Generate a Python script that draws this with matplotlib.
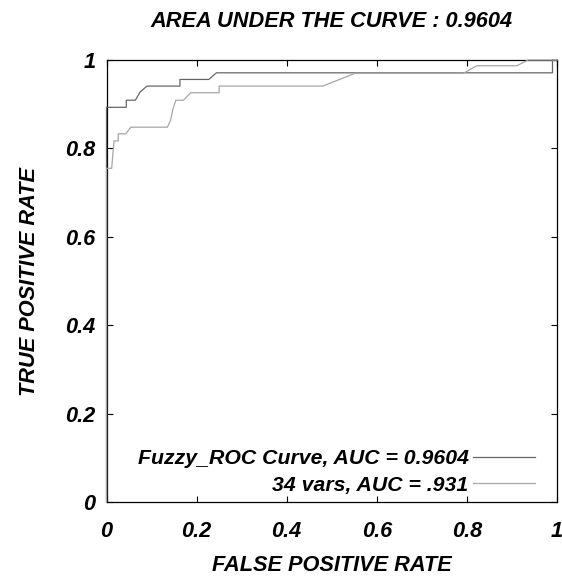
import matplotlib
matplotlib.use("Agg")
import matplotlib.pyplot as plt

plt.rcParams['font.family'] = ['Liberation Sans', 'DejaVu Sans']

# Fuzzy ROC curve
fuzzy_fpr = [0.0, 0.0, 0.044, 0.044, 0.064, 0.075, 0.090, 0.163, 0.163, 0.227, 0.244, 0.990, 0.990, 1.0]
fuzzy_tpr = [0.0, 0.893, 0.893, 0.909, 0.909, 0.928, 0.941, 0.941, 0.956, 0.956, 0.971, 0.971, 1.0, 1.0]

# 34 vars ROC curve
vars_fpr = [0.0, 0.0, 0.0115, 0.0166, 0.026, 0.026, 0.043, 0.054, 0.135, 0.142, 0.148, 0.154,
            0.171, 0.187, 0.250, 0.250, 0.480, 0.552, 0.792, 0.822, 0.911, 0.936, 1.0]
vars_tpr = [0.0, 0.755, 0.755, 0.817, 0.817, 0.833, 0.833, 0.848, 0.848, 0.863, 0.891, 0.909,
            0.909, 0.926, 0.926, 0.941, 0.941, 0.970, 0.970, 0.987, 0.987, 1.0, 1.0]

labels = ["Fuzzy_ROC Curve, AUC = 0.9604", "34 vars, AUC = .931"]
title = "AREA UNDER THE CURVE : 0.9604"
xticks = [0, 0.2, 0.4, 0.6, 0.8, 1]
yticks = [0, 0.2, 0.4, 0.6, 0.8, 1]
xtick_labels = ["0", "0.2", "0.4", "0.6", "0.8", "1"]
ytick_labels = ["0", "0.2", "0.4", "0.6", "0.8", "1"]

fs = 15.7
fig = plt.figure(figsize=(5.62, 5.82), dpi=100)
ax = fig.add_axes([106.5 / 562, 1 - 502 / 582, 450.5 / 562, 442 / 582])

l1, = ax.plot(fuzzy_fpr, fuzzy_tpr, color='#666666', lw=0.9, label=labels[0], zorder=3, clip_on=False)
l2, = ax.plot(vars_fpr, vars_tpr, color='#a6a6a6', lw=0.9, label=labels[1], zorder=4, clip_on=False)

ax.set_xlim(0, 1)
ax.set_ylim(0, 1)
ax.set_xticks(xticks)
ax.set_yticks(yticks)
ax.set_xticklabels(xtick_labels)
ax.set_yticklabels(ytick_labels)
ax.tick_params(direction='in', length=4, width=0.8, top=True, right=True, labelsize=fs)
ax.tick_params(axis='x', pad=14)
ax.tick_params(axis='y', pad=8)
for lab in ax.get_xticklabels() + ax.get_yticklabels():
    lab.set_fontweight('bold')
    lab.set_fontstyle('italic')
for sp in ax.spines.values():
    sp.set_linewidth(0.9)
    sp.set_color('black')

ax.set_xlabel("FALSE POSITIVE RATE", fontsize=fs, fontweight='bold', fontstyle='italic', labelpad=9)
ax.set_ylabel("TRUE POSITIVE RATE", fontsize=fs, fontweight='bold', fontstyle='italic', labelpad=18)
ax.set_title(title, fontsize=fs, fontweight='bold', fontstyle='italic', pad=24)

leg = ax.legend(handles=[l1, l2], loc='lower right', bbox_to_anchor=(0.951, 0.016), frameon=False,
                markerfirst=False, handlelength=2.9, handletextpad=0.22,
                labelspacing=0.35, borderpad=0, borderaxespad=0,
                prop={'size': 15.3, 'weight': 'bold', 'style': 'italic'})

fig.savefig("out.png", dpi=100)
